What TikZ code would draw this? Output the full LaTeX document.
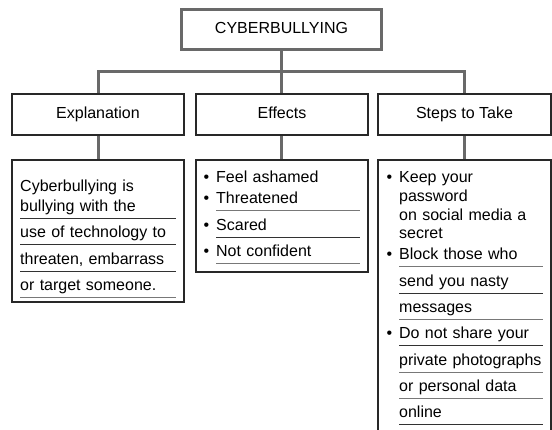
\documentclass[tikz,border=0pt]{standalone}
\usepackage{fontspec}
\setmainfont{Liberation Sans}
\usepackage{tikz}
\usetikzlibrary{positioning}
\definecolor{linkgray}{RGB}{105, 105, 105}
\definecolor{boxdark}{RGB}{40, 40, 40}
\definecolor{rulegray}{RGB}{120, 120, 120}
\definecolor{ruledark}{RGB}{50, 50, 50}
\newcommand{\bul}{\llap{\textbullet\hspace{7pt}}}

\begin{document}
\begin{tikzpicture}[x=1pt, y=-1pt, font=\fontsize{16}{19}\selectfont,
    topbox/.style={rectangle, draw=linkgray, line width=3pt, fill=white,
                   minimum width=200pt, minimum height=40pt, inner sep=0pt,
                   text height=11.5pt, text depth=3.5pt},
    headbox/.style={rectangle, draw=boxdark, line width=1.6pt, fill=white,
                    minimum width=172.5pt, minimum height=41.5pt, inner sep=0pt,
                    text height=11.5pt, text depth=3.5pt},
    bodybox/.style={rectangle, draw=boxdark, line width=1.6pt, fill=white,
                    minimum width=172.5pt, inner sep=0pt},
    link/.style={draw=linkgray, line width=3pt},
    rowE/.style={anchor=base west, inner sep=0pt, text width=156pt, align=left, text depth=6pt},
    rowB/.style={anchor=base west, inner sep=0pt, text width=144pt, align=left, text depth=6pt},
    dark/.style={draw=ruledark, line width=1pt},
    light/.style={draw=rulegray, line width=1pt}]

    \useasboundingbox (0,0) rectangle (552,430);
    \clip (0,0) rectangle (552,430);

    % Title and headings
    \node[topbox] (cyber) at (281.5, 29.5) {CYBERBULLYING};
    \node[headbox] (expl) at (98, 114.5) {Explanation};
    \node[headbox] (eff) at (282, 114.5) {Effects};
    \node[headbox] (steps) at (464.5, 114.5) {Steps to Take};

    % Bodies
    \node[bodybox, minimum height=142.5pt] (expl-body) at (98, 231) {};
    \node[bodybox, minimum height=112.5pt] (eff-body) at (282, 216) {};
    \node[bodybox, minimum height=280pt] (steps-body) at (464.5, 299.75) {};

    % Connections
    \coordinate (bar) at (281.5, 72);
    \draw[link] (cyber.south) -- (cyber.south |- eff.north);
    \draw[link] (expl.north) |- (bar) -| (steps.north);
    \draw[link] (expl.south) -- (expl-body.north);
    \draw[link] (cyber.south |- eff.south) -- (cyber.south |- eff-body.north);
    \draw[link] (steps.south) -- (steps-body.north);

    % Explanation text
    \node[rowE] (ex1) at (20, 192) {Cyberbullying is};
    \node[rowE] (ex2) at (20, 212) {bullying with the};
    \node[rowE] (ex3) at (20, 238) {use of technology to};
    \node[rowE] (ex4) at (20, 265) {threaten, embarrass};
    \node[rowE] (ex5) at (20, 291) {or target someone.};
    \draw[dark] (ex2.south west) -- (ex2.south east);
    \draw[dark] (ex3.south west) -- (ex3.south east);
    \draw[dark] (ex4.south west) -- (ex4.south east);
    \draw[light] (ex5.south west) -- (ex5.south east);

    % Effects text
    \node[rowB] (ef1) at (216, 183) {\bul Feel ashamed};
    \node[rowB] (ef2) at (216, 204) {\bul Threatened};
    \node[rowB] (ef3) at (216, 231) {\bul Scared};
    \node[rowB] (ef4) at (216, 257) {\bul Not confident};
    \draw[light] (ef2.south west) -- (ef2.south east);
    \draw[dark] (ef3.south west) -- (ef3.south east);
    \draw[light] (ef4.south west) -- (ef4.south east);

    % Steps text
    \node[rowB] (st1) at (399, 183) {\bul Keep your};
    \node[rowB] (st2) at (399, 202) {password};
    \node[rowB] (st3) at (399, 221) {on social media a};
    \node[rowB] (st4) at (399, 239) {secret};
    \node[rowB] (st5) at (399, 260) {\bul Block those who};
    \node[rowB] (st6) at (399, 287) {send you nasty};
    \node[rowB] (st7) at (399, 313) {messages};
    \node[rowB] (st8) at (399, 339) {\bul Do not share your};
    \node[rowB] (st9) at (399, 366) {private photographs};
    \node[rowB] (st10) at (399, 392) {or personal data};
    \node[rowB] (st11) at (399, 418) {online};
    \draw[light] (st5.south west) -- (st5.south east);
    \draw[dark] (st6.south west) -- (st6.south east);
    \draw[light] (st7.south west) -- (st7.south east);
    \draw[dark] (st8.south west) -- (st8.south east);
    \draw[light] (st9.south west) -- (st9.south east);
    \draw[light] (st10.south west) -- (st10.south east);
    \draw[dark] (st11.south west) -- (st11.south east);
\end{tikzpicture}
\end{document}
